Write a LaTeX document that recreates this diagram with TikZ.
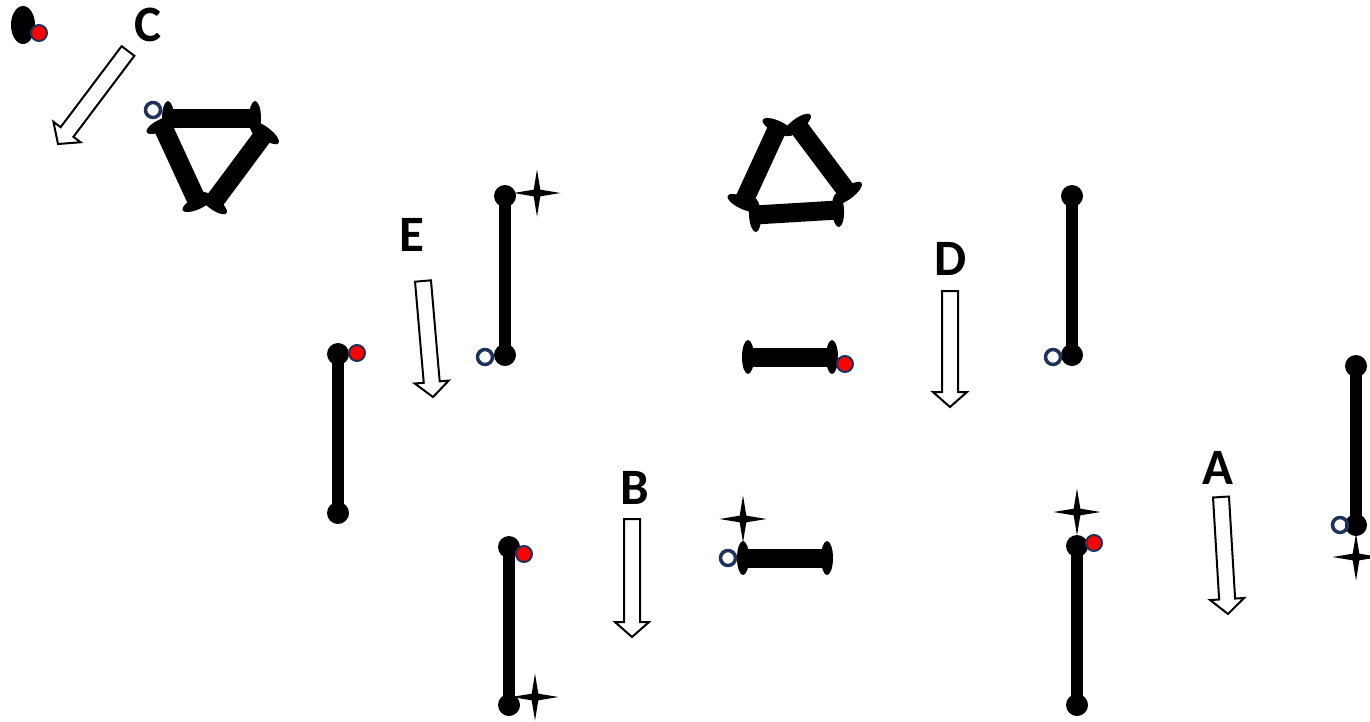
\documentclass[tikz,border=0pt]{standalone}
\usepackage{fontspec}
\setmainfont{Carlito}
\usetikzlibrary{positioning,shapes.geometric,calc}
\definecolor{ringblue}{RGB}{31,50,90}
\definecolor{dotred}{RGB}{255,0,0}

\begin{document}
\begin{tikzpicture}[x=1pt,y=-1pt,on grid,
    knob/.style={circle,fill,inner sep=0pt,minimum size=22pt},
    disc/.style={ellipse,fill,inner sep=0pt,minimum width=12pt,minimum height=34pt},
    rod/.style={line width=12pt},
    bar/.style={line width=19pt},
    reddot/.style={circle,fill=dotred,draw=ringblue,line width=2pt,inner sep=0pt,minimum size=16pt},
    ring/.style={circle,draw=ringblue,line width=3.5pt,inner sep=0pt,minimum size=15pt},
    spark/.style={star,star points=4,star point ratio=5,fill,inner sep=0pt,minimum size=47pt},
    letter/.style={font=\bfseries\fontsize{51}{60}\selectfont,inner sep=0pt},
    blockarrow/.style={draw,fill=white,line width=2pt,to path={
      ($(\tikztostart)!8pt!90:(\tikztotarget)$)
      -- ($(\tikztotarget)!15pt!(\tikztostart)!8pt!-90:(\tikztostart)$)
      -- ($(\tikztotarget)!15pt!(\tikztostart)!17pt!-90:(\tikztostart)$)
      -- (\tikztotarget)
      -- ($(\tikztotarget)!15pt!(\tikztostart)!17pt!90:(\tikztostart)$)
      -- ($(\tikztotarget)!15pt!(\tikztostart)!8pt!90:(\tikztostart)$)
      -- ($(\tikztostart)!8pt!-90:(\tikztotarget)$) -- cycle}}]
   \useasboundingbox (0,0) rectangle (1370,721);

   % labels
   \node[letter] (C) at (148,25) {C};
   \node[letter] (E) at (412,235) {E};
   \node[letter] (D) at (951,259) {D};
   \node[letter] (B) at (635,488) {B};
   \node[letter] (A) at (1218,468) {A};

   % rods with round ends
   \node[knob] (r1t) at (505,196) {};
   \node[knob] (r1b) [below=159pt of r1t] {};
   \node[knob] (r2t) at (338,354) {};
   \node[knob] (r2b) [below=159pt of r2t] {};
   \node[knob] (r3t) at (509,547) {};
   \node[knob] (r3b) [below=158pt of r3t] {};
   \node[knob] (r4t) at (1072,196) {};
   \node[knob] (r4b) [below=159pt of r4t] {};
   \node[knob] (r5t) at (1077,546) {};
   \node[knob] (r5b) [below=159pt of r5t] {};
   \node[knob] (r6t) at (1356,366) {};
   \node[knob] (r6b) [below=159pt of r6t] {};

   % rods with flat discs
   \node[disc] (d1l) at (748,357) {};
   \node[disc] (d1r) [right=84pt of d1l] {};
   \node[disc] (d2l) at (743,558) {};
   \node[disc] (d2r) [right=84pt of d2l] {};

   % triangles
   \node[disc] (t1a) at (168,118) {};
   \node[disc] (t1b) at (255,118) {};
   \node[disc,rotate=-65] (t1c) at (162,125) {};
   \node[disc,rotate=-65] (t1d) at (198,203) {};
   \node[disc,rotate=53] (t1e) at (265,133) {};
   \node[disc,rotate=53] (t1f) at (213,203) {};
   \node[disc,rotate=3] (t2a) at (755,215) {};
   \node[disc,rotate=3] (t2b) at (838,210) {};
   \node[disc,rotate=65] (t2c) at (743,203) {};
   \node[disc,rotate=65] (t2d) at (778,127) {};
   \node[disc,rotate=-53] (t2e) at (797,125) {};
   \node[disc,rotate=-53] (t2f) at (848,193) {};

   \path[rod]
    (r1t.center) edge (r1b.center)
    (r2t.center) edge (r2b.center)
    (r3t.center) edge (r3b.center)
    (r4t.center) edge (r4b.center)
    (r5t.center) edge (r5b.center)
    (r6t.center) edge (r6b.center)
    ;
   \path[bar]
    (d1l.center) edge (d1r.center)
    (d2l.center) edge (d2r.center)
    (t1a.center) edge (t1b.center)
    (t1c.center) edge (t1d.center)
    (t1e.center) edge (t1f.center)
    (t2a.center) edge (t2b.center)
    (t2c.center) edge (t2d.center)
    (t2e.center) edge (t2f.center)
    ;

   % lone blob
   \node[disc,minimum width=24pt,minimum height=38pt] (blob) at (23,25) {};

   % red dots, rings and sparks
   \node[reddot] (p0) [below right=8pt and 16pt of blob] {};
   \node[reddot] (p2) [above right=1pt and 19pt of r2t] {};
   \node[reddot] (p3) [below right=7pt and 15pt of r3t] {};
   \node[reddot] (p5) [above right=3pt and 17pt of r5t] {};
   \node[reddot] (pd) [below right=7pt and 13pt of d1r] {};
   \node[ring] (o0) at (153,110) {};
   \node[ring] (o1) [below left=2pt and 20pt of r1b] {};
   \node[ring] (o4) [below left=2pt and 19pt of r4b] {};
   \node[ring] (o6) [left=16pt of r6b] {};
   \node[ring] (od) [left=15pt of d2l] {};
   \node[spark] (s1) [above right=3pt and 32pt of r1t] {};
   \node[spark] (s3) [above right=8pt and 26pt of r3b] {};
   \node[spark] (s5) [above=34pt of r5t] {};
   \node[spark] (s6) [below=32pt of r6b] {};
   \node[spark] (sd) [above=39pt of d2l] {};

   % hollow arrows
   \coordinate (cT) at (128,51);   \coordinate (cH) at (58,144);
   \coordinate (eT) at (423,281);  \coordinate (eH) at (433,397);
   \coordinate (dT) at (950,291);  \coordinate (dH) at (950,407);
   \coordinate (bT) at (632,519);  \coordinate (bH) at (632,637);
   \coordinate (aT) at (1221,497); \coordinate (aH) at (1228,614);
   \path
    (cT) edge[blockarrow] (cH)
    (eT) edge[blockarrow] (eH)
    (dT) edge[blockarrow] (dH)
    (bT) edge[blockarrow] (bH)
    (aT) edge[blockarrow] (aH)
    ;
\end{tikzpicture}
\end{document}
